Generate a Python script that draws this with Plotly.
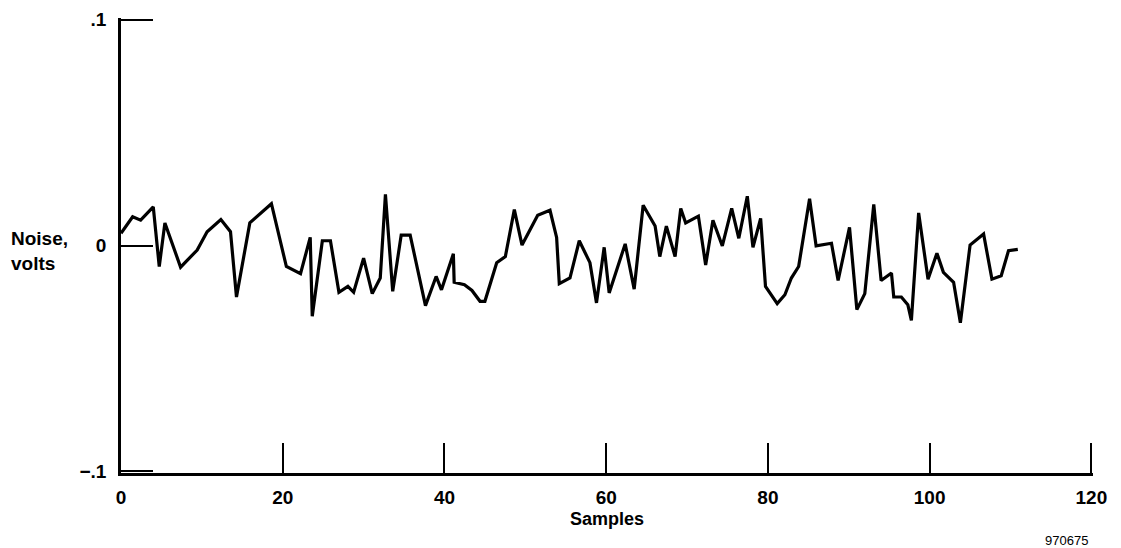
import plotly.graph_objects as go

# Vertices of the noise trace (sample index, volts)
samples = [0.0, 1.44, 2.43, 3.99, 4.73, 5.43, 7.37, 8.52, 9.42, 10.65, 12.35, 13.54, 14.28,
           15.93, 18.6, 20.45, 22.2, 23.4, 23.65, 24.9, 25.9, 26.95, 28.06, 28.77, 30.0,
           31.07, 32.06, 32.7, 33.6, 34.65, 35.76, 37.65, 38.97, 39.63, 41.1, 41.2, 42.47,
           43.4, 44.4, 45.0, 46.46, 47.53, 48.64, 49.59, 51.53, 53.05, 53.87, 54.2, 55.52,
           56.67, 57.99, 58.8, 59.75, 60.37, 62.35, 63.46, 64.57, 66.05, 66.63, 67.44,
           68.52, 69.22, 69.83, 71.4, 72.3, 73.2, 74.36, 75.52, 76.4, 77.45, 78.15, 79.1,
           79.7, 81.15, 82.1, 82.9, 83.8, 85.15, 85.96, 87.86, 88.68, 90.09, 91.0, 91.98,
           93.09, 94.0, 95.28, 95.56, 96.5, 97.3, 97.74, 98.64, 99.8, 100.9, 101.7, 102.96,
           103.8, 105.0, 106.67, 107.7, 108.85, 109.75, 110.9]
noise = [0.0054, 0.0127, 0.0112, 0.0171, -0.0093, 0.0100, -0.0096, -0.0052, -0.0020, 0.0061,
         0.0115, 0.0061, -0.0228, 0.0100, 0.0185, -0.0093, -0.0125, 0.0036, -0.0313, 0.0021,
         0.0021, -0.0207, -0.0181, -0.0207, -0.0056, -0.0213, -0.0144, 0.0226, -0.0203,
         0.0046, 0.0046, -0.0266, -0.0137, -0.0196, -0.0037, -0.0163, -0.0174, -0.0199,
         -0.0247, -0.0247, -0.0076, -0.0049, 0.0159, 0.0002, 0.0134, 0.0156, 0.0036, -0.0169,
         -0.0144, 0.0021, -0.0076, -0.0254, -0.0008, -0.0210, 0.0007, -0.0193, 0.0178, 0.0086,
         -0.0049, 0.0086, -0.0049, 0.0164, 0.0100, 0.0130, -0.0086, 0.0112, -0.0002, 0.0164,
         0.0032, 0.0218, -0.0008, 0.0120, -0.0181, -0.0257, -0.0218, -0.0144, -0.0093, 0.0207,
         -0.0002, 0.0010, -0.0155, 0.0080, -0.0284, -0.0213, 0.0182, -0.0155, -0.0122, -0.0228,
         -0.0228, -0.0262, -0.0331, 0.0144, -0.0149, -0.0034, -0.0119, -0.0163, -0.0342, 0.0002,
         0.0051, -0.0149, -0.0134, -0.0023, -0.0017]

x_ticks = [0, 20, 40, 60, 80, 100, 120]
y_ticks = [-0.1, 0, 0.1]
y_tick_text = ["\u2212.1", "0", ".1"]

FONT = "Liberation Sans"

fig = go.Figure()
fig.add_trace(go.Scatter(x=samples, y=noise, mode="lines",
                         line=dict(color="black", width=3.2), hoverinfo="skip",
                         showlegend=False))

fig.update_layout(
    width=1113, height=540,
    margin=dict(l=113, r=28, t=10, b=75),
    paper_bgcolor="white", plot_bgcolor="white",
    font=dict(family=FONT, color="black"),
    xaxis=dict(range=[0, 120.2], tickvals=x_ticks, ticks="inside", ticklen=30,
               tickwidth=1.5, tickcolor="black", showline=True, linewidth=3,
               linecolor="black", showgrid=False, zeroline=False, automargin=False,
               ticklabelstandoff=5,
               tickfont=dict(size=19, weight="bold", family=FONT)),
    yaxis=dict(range=[-0.1007, 0.1007], tickvals=y_ticks, ticktext=y_tick_text,
               ticks="inside", ticklen=32, tickwidth=1.5, tickcolor="black",
               showline=True, linewidth=2.5, linecolor="black", showgrid=False,
               zeroline=False, automargin=False, ticklabelstandoff=8,
               tickfont=dict(size=19, weight="bold", family=FONT)),
    annotations=[
        dict(text="Noise,<br>volts", xref="paper", yref="paper", x=-0.1152, y=0.487,
             xanchor="left", yanchor="middle", align="left", showarrow=False,
             font=dict(size=19, weight="bold", family=FONT)),
        dict(text="Samples", xref="paper", yref="paper", x=0.5, y=-0.102,
             xanchor="center", yanchor="middle", showarrow=False,
             font=dict(size=18, weight="bold", family=FONT)),
        dict(text="970675", xref="paper", yref="paper", x=0.973, y=-0.149,
             xanchor="center", yanchor="middle", showarrow=False,
             font=dict(size=13, family=FONT)),
    ],
)

fig.write_html("out.html")
